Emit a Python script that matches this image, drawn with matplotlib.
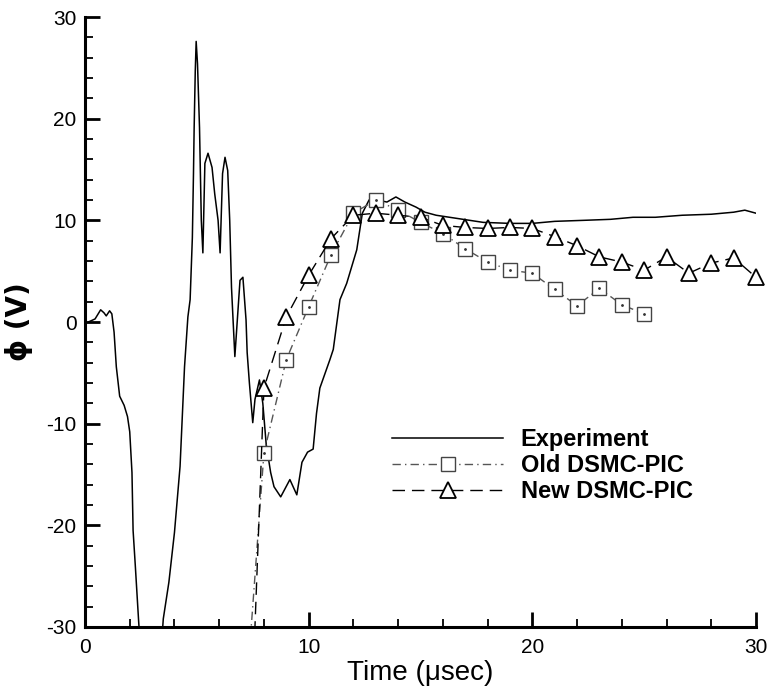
import matplotlib
matplotlib.use("Agg")
import matplotlib.pyplot as plt
import numpy as np
from matplotlib.ticker import MultipleLocator
from matplotlib.lines import Line2D

# ---- data ----
exp_t = [0.15, 0.45, 0.7, 0.85, 0.95, 1.1, 1.2, 1.3, 1.4, 1.55, 1.75, 1.9, 2.0, 2.1, 2.15, 2.25, 2.4, 2.6,
         3.0, 3.35, 3.5, 3.75, 4.0, 4.25, 4.45, 4.6, 4.7, 4.8, 4.85, 4.88, 4.93, 4.97, 5.03, 5.12, 5.2, 5.27,
         5.36, 5.5, 5.68, 5.8, 5.95, 6.04, 6.15, 6.26, 6.38, 6.47, 6.55, 6.62, 6.7, 6.93, 7.06, 7.2, 7.25,
         7.35, 7.5, 7.6, 7.8, 7.95, 8.1, 8.3, 8.45, 8.75, 9.16, 9.47, 9.7, 9.95, 10.2, 10.35, 10.5, 10.95,
         11.1, 11.4, 11.7, 12.15, 12.4, 12.7, 13.05, 13.5, 13.9, 14.3, 14.8, 15.2, 15.7, 16.6, 17.8, 19.0,
         20.0, 21.0, 22.3, 23.5, 24.5, 25.5, 26.7, 28.0, 29.0, 29.5, 30.0]
exp_phi = [0.0, 0.3, 1.2, 0.9, 0.6, 1.1, 0.8, -1.0, -4.4, -7.3, -8.2, -9.3, -10.8, -14.8, -20.5, -24.0, -29.5, -36.0,
           -38.0, -34.0, -29.2, -25.6, -20.7, -14.2, -4.4, 0.5, 2.2, 8.3, 14.6, 19.1, 24.7, 27.6, 25.4, 19.1, 10.0, 6.8,
           15.6, 16.6, 15.2, 12.6, 10.0, 6.8, 14.6, 16.2, 14.9, 10.0, 3.4, 0.2, -3.4, 4.1, 4.4, 0.2, -3.0,
           -6.0, -9.9, -7.6, -5.7, -8.0, -12.0, -14.8, -16.2, -17.2, -15.5, -17.0, -13.8, -12.8, -12.5, -9.0, -6.5, -3.7,
           -2.7, 2.2, 3.8, 7.1, 10.7, 12.0, 12.0, 11.8, 12.3, 11.8, 11.3, 10.8, 10.5, 10.2, 9.8, 9.7,
           9.7, 9.9, 10.0, 10.1, 10.3, 10.3, 10.5, 10.6, 10.8, 11.0, 10.7]

old_t = [7, 8, 9, 10, 11, 12, 13, 14, 15, 16, 17, 18, 19, 20, 21, 22, 23, 24, 25]
old_phi = [-43, -12.9, -3.7, 1.5, 6.6, 10.7, 12.0, 11.0, 9.8, 8.7, 7.2, 5.9, 5.1, 4.8, 3.2, 1.6, 3.3, 1.7, 0.8]

new_t = [7, 8, 9, 10, 11, 12, 13, 14, 15, 16, 17, 18, 19, 20, 21, 22, 23, 24, 25, 26, 27, 28, 29, 30]
new_phi = [-65, -6.5, 0.5, 4.6, 8.2, 10.5, 10.7, 10.5, 10.3, 9.5, 9.3, 9.2, 9.3, 9.2, 8.4, 7.5, 6.4, 5.9,
           5.1, 6.4, 4.8, 5.8, 6.3, 4.4]

labels = ["Experiment", "Old DSMC-PIC", "New DSMC-PIC"]

plt.rcParams['font.family'] = ['Liberation Sans', 'DejaVu Sans']
plt.rcParams['axes.unicode_minus'] = False

fig = plt.figure(figsize=(7.74, 6.91), dpi=100)
ax = fig.add_axes([85/774, 1-627/691, 671/774, 610/691])

XMIN, XMAX, YMIN, YMAX = 0, 30, -30, 30

ax.plot(exp_t, exp_phi, color='black', lw=1.1)

old_dash = (0, (6, 3, 1, 3))
ax.plot(old_t, old_phi, color='#555555', lw=1.0, linestyle=old_dash)
ot = np.array(old_t, float); op = np.array(old_phi, float)
m = (op >= YMIN) & (op <= YMAX)
ax.plot(ot[m], op[m], linestyle='none', marker='s', ms=10, mfc='white', mec='#444444', mew=1.0, clip_on=False)
ax.plot(ot[m], op[m], linestyle='none', marker='.', ms=2, color='#333333', clip_on=False)

ax.plot(new_t, new_phi, color='black', lw=1.0, linestyle=(0, (9, 5)))
nt = np.array(new_t, float); npv = np.array(new_phi, float)
m2 = (npv >= YMIN) & (npv <= YMAX)
ax.plot(nt[m2], npv[m2], linestyle='none', marker='^', ms=12, mfc='white', mec='black', mew=1.3, clip_on=False)

ax.set_xlim(XMIN, XMAX)
ax.set_ylim(YMIN, YMAX)

for s in ['top', 'right']:
    ax.spines[s].set_visible(False)
for s in ['left', 'bottom']:
    ax.spines[s].set_linewidth(2.2)

ax.xaxis.set_major_locator(MultipleLocator(10))
ax.xaxis.set_minor_locator(MultipleLocator(2))
ax.yaxis.set_major_locator(MultipleLocator(10))
ax.yaxis.set_minor_locator(MultipleLocator(2))
ax.tick_params(which='major', direction='in', length=11, width=2.0, labelsize=15, pad=6)
ax.tick_params(which='minor', direction='in', length=6, width=1.3)
ax.tick_params(axis='x', pad=8)

ax.set_xlabel("Time (μsec)", fontsize=20, labelpad=2)
ax.set_ylabel("ϕ (V)", fontsize=20, fontweight='bold', labelpad=10, family=['DejaVu Sans'])

handles = [
    Line2D([], [], color='black', lw=1.1),
    Line2D([], [], color='#555555', lw=1.0, linestyle=old_dash, marker='s', ms=10, mfc='white', mec='#444444', mew=1.0),
    Line2D([], [], color='black', lw=1.0, linestyle=(0, (9, 5)), marker='^', ms=12, mfc='white', mec='black', mew=1.3),
]
leg = ax.legend(handles, labels, loc='upper left', bbox_to_anchor=(0.44, 0.345), frameon=False,
                handlelength=4.7, handletextpad=0.75, labelspacing=0.12, borderpad=0,
                prop={'size': 17, 'weight': 'bold'}, markerscale=1.0)

fig.savefig("out.png", dpi=100)
